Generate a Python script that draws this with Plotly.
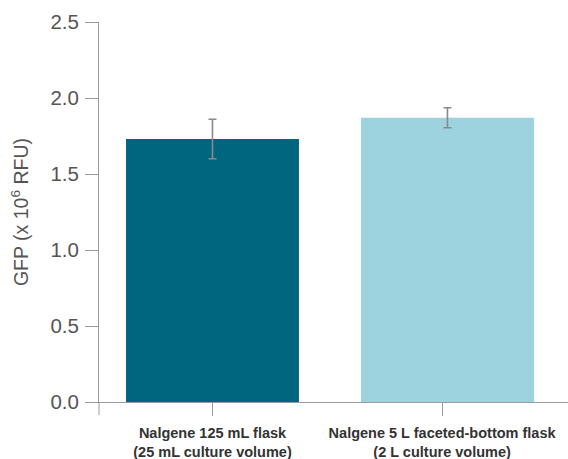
import plotly.graph_objects as go

# Culture vessels compared, GFP yield and standard deviation
categories = [
    "Nalgene 125 mL flask<br>(25 mL culture volume)",
    "Nalgene 5 L faceted-bottom flask<br>(2 L culture volume)",
]
gfp_values = [1.73, 1.87]
gfp_errors = [0.13, 0.066]
bar_colors = ["#00667f", "#9dd3de"]
y_ticks = [0.0, 0.5, 1.0, 1.5, 2.0, 2.5]

positions = list(range(len(categories)))
bold_labels = ["<b>" + c.replace("<br>", "</b><br><b>") + "</b>" for c in categories]

fig = go.Figure(
    go.Bar(
        x=positions,
        y=gfp_values,
        width=0.736,
        marker=dict(color=bar_colors, line=dict(width=0)),
        error_y=dict(
            type="data",
            array=gfp_errors,
            visible=True,
            color="#8a8a8a",
            thickness=1.6,
            width=4,
        ),
    )
)

axis_gray = "#9a9a9a"

fig.update_layout(
    width=568,
    height=459,
    margin=dict(l=99, r=0, t=22, b=57, autoexpand=False),
    paper_bgcolor="white",
    plot_bgcolor="white",
    showlegend=False,
    xaxis=dict(
        range=[-0.483, 1.513],
        tickmode="array",
        tickvals=[0, 0.977],
        ticktext=bold_labels,
        ticks="outside",
        ticklen=13,
        tickwidth=1,
        tickcolor=axis_gray,
        ticklabelstandoff=5,
        automargin=False,
        showline=True,
        linecolor=axis_gray,
        linewidth=1,
        showgrid=False,
        zeroline=False,
        tickfont=dict(family="Liberation Sans", size=14.5, color="#333333"),
    ),
    yaxis=dict(
        range=[0, 2.5],
        tickmode="array",
        tickvals=y_ticks,
        ticktext=[f"{v:.1f}" for v in y_ticks],
        ticks="outside",
        ticklen=13,
        tickwidth=1,
        tickcolor=axis_gray,
        ticklabelstandoff=2,
        automargin=False,
        showline=True,
        linecolor=axis_gray,
        linewidth=1,
        showgrid=False,
        zeroline=False,
        tickfont=dict(family="Liberation Sans", size=20.5, color="#555555"),
        title=dict(
            text="GFP (x 10<sup>6</sup> RFU)",
            font=dict(family="Liberation Sans", size=19.5, color="#555555"),
            standoff=16,
        ),
    ),
    shapes=[
        # y axis line continues a little below the baseline
        dict(
            type="line",
            xref="paper",
            yref="paper",
            x0=0,
            x1=0,
            y0=0,
            y1=-13 / 380,
            line=dict(color=axis_gray, width=1),
        )
    ],
)

fig.write_html("out.html")
